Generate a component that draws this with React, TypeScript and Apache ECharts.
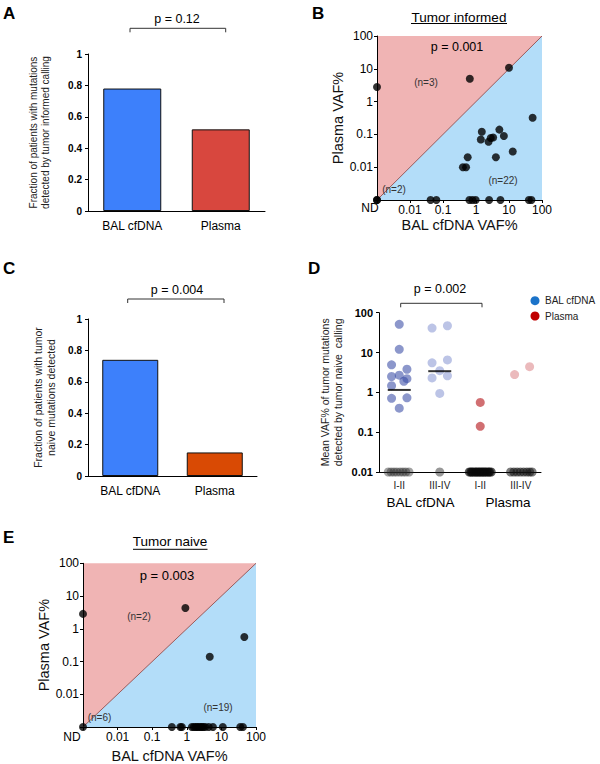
import React, { useEffect, useRef } from 'react';
import * as echarts from 'echarts';

const FONT = '"Liberation Sans", Arial, Helvetica, sans-serif';

// ---------- Panel A / C : bar fractions ----------
const barCategories = ['BAL cfDNA', 'Plasma'];
const informedFraction = [0.78, 0.52];
const naiveFraction = [0.74, 0.15];

// ---------- Panel B : tumor informed VAF% (ND = not detected) ----------
const ND = 0.001;
const informedBAL = [ND, 0.65, 10, ND, ND, 52, 1.5, 5.1, 7, 1.4, 2.4, 2.8, 3.3, 13, 4, 0.56, 0.4, 0.5, 0.042, 0.063, 0.63, 0.78, 0.98, 2.5, 5.5, 40, 48];
const informedPlasma = [2.8, 5.0, 10.8, ND, ND, 0.32, 0.12, 0.14, 0.089, 0.07, 0.06, 0.078, 0.08, 0.03, 0.02, 0.02, 0.01, 0.01, ND, ND, ND, ND, ND, ND, ND, ND, ND];

// ---------- Panel E : tumor naive VAF% ----------
const naiveBAL = [ND, 0.91, 4.6, 46, ND, 0.37, 0.65, 0.72, 1.4, 1.6, 1.8, 2.0, 2.2, 2.5, 2.7, 3.0, 3.4, 4.3, 5.7, 11, 35, 42];
const naivePlasma = [2.85, 4.3, 0.14, 0.56, ND, ND, ND, ND, ND, ND, ND, ND, ND, ND, ND, ND, ND, ND, ND, ND, ND, ND];

// ---------- Panel D : mean VAF% by stage ----------
const stageLabels = ['I-II', 'III-IV', 'I-II', 'III-IV'];
const groupLabels = ['BAL cfDNA', 'Plasma'];
const VAF_FLOOR = 0.01; // not detected drawn on the axis floor
const balEarly = [51, 12, 4.9, 3.8, 2.5, 2.7, 2.2, 1.9, 1.47, 0.71, 0.73, 0.4];
const balEarlyCol = [0, 0, -1, 1, -1, 0, 1, 0.6, -1, -1, 1, 0];
const balLate = [41, 47, 5.5, 6.5, 3.5, 2.3, 2.6, 0.94];
const balLateCol = [-1, 1, -1, 1, 0, -1, 1, 0];
const plasmaEarly = [0.56, 0.14];
const plasmaEarlyCol = [0, 0];
const plasmaLate = [2.8, 4.4];
const plasmaLateCol = [-0.8, 1.15];
const balEarlyND = [-0.27, -0.2, -0.13, -0.06, 0.02, 0.09, 0.16, 0.24];
const balLateND = [0];
const plasmaEarlyND = [-0.27, -0.23, -0.2, -0.16, -0.12, -0.09, -0.05, -0.02, 0.02, 0.05, 0.09, 0.12, 0.16, 0.2, 0.23, 0.27];
const plasmaLateND = [-0.25, -0.17, -0.09, -0.01, 0.07, 0.15, 0.22, 0.28];
const medians = [1.15, 3.4];

const COL_STEP = 0.19;

function logFmt(v: number) {
  return v < 0.002 ? '' : String(+Number(v).toPrecision(3));
}

function text(x: number, y: number, t: string, size: number, o: any = {}) {
  const align = o.align || 'center';
  return {
    type: 'text',
    x,
    y,
    z: 100,
    style: {
      text: t,
      fontFamily: FONT,
      fontSize: size,
      fontWeight: o.bold ? 'bold' : 'normal',
      fill: o.color || '#000',
      align,
      textAlign: align,
      verticalAlign: 'middle',
      textVerticalAlign: 'middle',
    },
  };
}

function bracket(x1: number, x2: number, y: number, h: number) {
  return {
    type: 'polyline',
    z: 100,
    shape: { points: [[x1, y + h], [x1, y], [x2, y], [x2, y + h]] },
    style: { stroke: '#333', lineWidth: 1, fill: null },
  };
}

function hline(x1: number, x2: number, y: number) {
  return {
    type: 'line',
    z: 100,
    shape: { x1, y1: y, x2, y2: y },
    style: { stroke: '#000', lineWidth: 1 },
  };
}

const blackLine = { show: true, lineStyle: { color: '#000', width: 1 } };

function barYAxis(grid: number, name: string, gap: number, size: number, lh: number) {
  return {
    type: 'value',
    gridIndex: grid,
    min: 0,
    max: 1,
    interval: 0.2,
    splitLine: { show: false },
    axisLine: blackLine,
    axisTick: { show: true, length: 3, lineStyle: { color: '#000' } },
    axisLabel: { fontFamily: FONT, fontSize: 10, fontWeight: 'bold', color: '#000', margin: 6 },
    name,
    nameLocation: 'middle',
    nameRotate: 90,
    nameGap: gap,
    nameTextStyle: { fontFamily: FONT, fontSize: size, color: '#222', lineHeight: lh },
  };
}

function barXAxis(grid: number) {
  return {
    type: 'category',
    gridIndex: grid,
    data: barCategories,
    axisLine: blackLine,
    axisTick: { show: false },
    axisLabel: { fontFamily: FONT, fontSize: 12, color: '#000', margin: 9 },
  };
}

function logAxis(grid: number, name: string, gap: number, isY: boolean) {
  return {
    type: 'log',
    logBase: 10,
    gridIndex: grid,
    min: ND,
    max: 100,
    splitLine: { show: false },
    axisLine: blackLine,
    axisTick: { show: true, length: 3, lineStyle: { color: '#000' } },
    axisLabel: { fontFamily: FONT, fontSize: 12, color: '#000', margin: 4, formatter: logFmt },
    name,
    nameLocation: 'middle',
    nameRotate: isY ? 90 : 0,
    nameGap: gap,
    nameTextStyle: { fontFamily: FONT, fontSize: 14.5, color: '#111' },
  };
}

function vafScatter(grid: number, xs: number[], ys: number[]) {
  return {
    type: 'scatter',
    xAxisIndex: grid,
    yAxisIndex: grid,
    symbolSize: 8,
    clip: false,
    z: 5,
    itemStyle: { color: '#000' },
    data: xs.map((x, i) => [x, ys[i]]),
  };
}

function diagonal(grid: number) {
  return {
    type: 'line',
    xAxisIndex: grid,
    yAxisIndex: grid,
    symbol: 'none',
    z: 1,
    lineStyle: { color: '#9a5a5a', width: 1 },
    areaStyle: { color: '#b3ddf9', opacity: 1, origin: 'start' },
    data: [[ND, ND], [100, 100]],
  };
}

function stageScatter(group: number, vals: number[], cols: number[], color: string, z = 4) {
  return {
    type: 'scatter',
    xAxisIndex: 3,
    yAxisIndex: 3,
    symbolSize: 9,
    clip: false,
    z,
    itemStyle: { color },
    data: vals.map((v, i) => [group + 0.5 + cols[i] * COL_STEP, v]),
  };
}

function ndScatter(group: number, offs: number[], color: string) {
  return {
    type: 'scatter',
    xAxisIndex: 3,
    yAxisIndex: 3,
    symbolSize: 9,
    clip: false,
    z: 3,
    itemStyle: { color },
    data: offs.map((o) => [group + 0.5 + o, VAF_FLOOR]),
  };
}

const barColorsA = ['#3d80fb', '#d8473e'];
const barColorsC = ['#3d80fb', '#d94a04'];

function barSeries(grid: number, vals: number[], colors: string[], w: number) {
  return {
    type: 'bar',
    xAxisIndex: grid,
    yAxisIndex: grid,
    barWidth: w,
    data: vals.map((v, i) => ({
      value: v,
      itemStyle: { color: colors[i], borderColor: '#111', borderWidth: 1 },
    })),
  };
}

export default function App() {
  const ref = useRef<HTMLDivElement>(null);
  useEffect(() => {
    if (!ref.current) return;
    const chart = echarts.init(ref.current, undefined, { renderer: 'svg' });
    const option: any = {
      animation: false,
      backgroundColor: '#fff',
      grid: [
        { left: 88, top: 54, width: 177, height: 157 },
        { left: 377, top: 36, width: 165, height: 164, show: true, backgroundColor: '#f0b4b4', borderWidth: 0 },
        { left: 88, top: 319, width: 169, height: 157 },
        { left: 379, top: 312.7, width: 162, height: 159.3 },
        { left: 83, top: 563.3, width: 173, height: 165, show: true, backgroundColor: '#f0b4b4', borderWidth: 0 },
      ],
      xAxis: [
        barXAxis(0),
        logAxis(1, 'BAL cfDNA VAF%', 17, false),
        barXAxis(2),
        {
          type: 'value',
          gridIndex: 3,
          min: 0,
          max: 4,
          interval: 0.5,
          splitLine: { show: false },
          axisLine: blackLine,
          axisTick: { show: false },
          axisLabel: {
            fontFamily: FONT,
            fontSize: 10,
            color: '#222',
            margin: 8,
            formatter: (v: number) => {
              const f = v - Math.floor(v);
              return Math.abs(f - 0.5) < 1e-6 ? stageLabels[Math.floor(v)] || '' : '';
            },
          },
        },
        logAxis(4, 'BAL cfDNA VAF%', 21, false),
      ],
      yAxis: [
        barYAxis(0, 'Fraction of patients with mutations\ndetected by tumor informed calling', 37, 10, 12),
        logAxis(1, 'Plasma VAF%', 26, true),
        barYAxis(2, 'Fraction of patients with tumor\nnaive mutations detected', 31, 10.5, 13),
        {
          type: 'log',
          logBase: 10,
          gridIndex: 3,
          min: 0.01,
          max: 100,
          splitLine: { show: false },
          axisLine: blackLine,
          axisTick: { show: true, length: 3, lineStyle: { color: '#000' } },
          axisLabel: {
            fontFamily: FONT,
            fontSize: 11,
            fontWeight: 'bold',
            color: '#000',
            margin: 6,
            formatter: (v: number) => String(+Number(v).toPrecision(3)),
          },
          name: 'Mean VAF% of tumor mutations\ndetected by tumor naive  calling',
          nameLocation: 'middle',
          nameRotate: 90,
          nameGap: 35,
          nameTextStyle: { fontFamily: FONT, fontSize: 10.5, color: '#222', lineHeight: 13 },
        },
        logAxis(4, 'Plasma VAF%', 28, true),
      ],
      series: [
        barSeries(0, informedFraction, barColorsA, 58),
        diagonal(1),
        vafScatter(1, informedBAL, informedPlasma),
        barSeries(2, naiveFraction, barColorsC, 56),
        ndScatter(0, balEarlyND, 'rgba(40,40,40,0.55)'),
        ndScatter(1, balLateND, 'rgba(40,40,40,0.6)'),
        ndScatter(2, plasmaEarlyND, 'rgba(10,10,10,0.85)'),
        ndScatter(3, plasmaLateND, 'rgba(20,20,20,0.7)'),
        stageScatter(0, balEarly, balEarlyCol, 'rgba(55,75,165,0.72)'),
        stageScatter(1, balLate, balLateCol, 'rgba(120,135,205,0.62)'),
        stageScatter(2, plasmaEarly, plasmaEarlyCol, 'rgba(185,35,40,0.82)'),
        stageScatter(3, plasmaLate, plasmaLateCol, 'rgba(215,115,120,0.62)'),
        {
          type: 'scatter',
          xAxisIndex: 3,
          yAxisIndex: 3,
          symbol: 'rect',
          symbolSize: [23, 2],
          z: 6,
          clip: false,
          itemStyle: { color: '#000' },
          data: medians.map((m, i) => [i + 0.5, m]),
        },
        diagonal(4),
        vafScatter(4, naiveBAL, naivePlasma),
      ],
      graphic: [
        // panel letters
        text(3, 13, 'A', 17, { bold: true, align: 'left' }),
        text(312, 13, 'B', 17, { bold: true, align: 'left' }),
        text(3, 268, 'C', 17, { bold: true, align: 'left' }),
        text(308, 268, 'D', 17, { bold: true, align: 'left' }),
        text(3, 537, 'E', 17, { bold: true, align: 'left' }),
        // A
        text(177, 19, 'p = 0.12', 12.5),
        bracket(130, 225.7, 28.3, 4),
        // B
        text(459, 17, 'Tumor informed', 13.5),
        hline(411, 507, 23.5),
        text(457, 47, 'p = 0.001', 12.5),
        text(426, 82, '(n=3)', 10, { color: '#333' }),
        text(394, 189.5, '(n=2)', 10, { color: '#333' }),
        text(503, 180, '(n=22)', 10, { color: '#333' }),
        text(370, 208, 'ND', 12),
        // C
        text(177, 290, 'p = 0.004', 12.5),
        bracket(127.7, 224, 299, 4),
        // D
        text(440, 289, 'p = 0.002', 12.5),
        bracket(400.7, 482, 303.3, 4),
        { type: 'circle', z: 100, shape: { cx: 535, cy: 300.7, r: 4.5 }, style: { fill: '#1b73c9' } },
        { type: 'circle', z: 100, shape: { cx: 535, cy: 316, r: 4.5 }, style: { fill: '#c00000' } },
        text(545, 300.7, groupLabels[0], 10, { align: 'left', color: '#222' }),
        text(545, 316, groupLabels[1], 10, { align: 'left', color: '#222' }),
        text(420.5, 502.5, groupLabels[0], 13.5),
        text(508, 502.5, groupLabels[1], 13.5),
        // E
        text(170, 541.5, 'Tumor naive', 13.5),
        hline(133, 207.5, 549.3),
        text(167, 575, 'p = 0.003', 13),
        text(139, 616, '(n=2)', 10, { color: '#333' }),
        text(99.5, 717.5, '(n=6)', 10, { color: '#333' }),
        text(218, 707, '(n=19)', 10, { color: '#333' }),
        text(72, 737, 'ND', 12),
      ],
    };
    chart.setOption(option);
    return () => chart.dispose();
  }, []);
  return (
    <div
      ref={ref}
      style={{ position: 'fixed', left: 0, top: 0, width: 600, height: 764, background: '#fff' }}
    />
  );
}
